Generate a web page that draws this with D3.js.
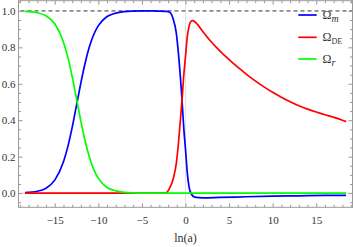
<!DOCTYPE html>
<html>
<head>
<meta charset="utf-8">
<script src="https://cdn.jsdelivr.net/npm/d3@7"></script>
<style>
    body { margin: 0; background: #fff; }
    svg { display: block; }
    text { font-family: "Liberation Serif", "DejaVu Serif", serif; fill: #333; }
</style>
</head>
<body>
<div id="chart"></div>
<script>
    // ln(a) samples and density parameters
    var lnA_early = [-18.42, -17, -16, -15, -14, -13.5, -13, -12.5, -12, -11.5, -11, -10.5, -10, -9, -8, -7, -6, -5, -4, -3];
    var omegaR_early = [0.997, 0.99, 0.973, 0.929, 0.828, 0.745, 0.639, 0.517, 0.394, 0.283, 0.193, 0.127, 0.081, 0.031, 0.012, 0.004, 0.001, 0, 0, 0];

    var lnA_m = [-18.42, -17, -16, -15, -14, -13.5, -13, -12.5, -12, -11.5, -11, -10.5, -10, -9, -8, -7, -6, -5, -4, -3,
                 -2.2, -1.82, -1.44, -1.05, -0.78, -0.59, -0.4, -0.21, 0, 0.21, 0.4, 0.67, 1.05, 2.0, 3.9, 7, 10, 13, 16, 18.42];
    var omegaM = [0.003, 0.01, 0.027, 0.071, 0.172, 0.255, 0.361, 0.483, 0.606, 0.717, 0.807, 0.873, 0.919, 0.969, 0.988, 0.996, 0.999, 1.0, 1.0, 0.999,
                  0.997, 0.993, 0.96, 0.877, 0.75, 0.64, 0.51, 0.365, 0.24, 0.11, 0.036, -0.005, -0.022, -0.026, -0.024, -0.02, -0.017, -0.015, -0.013, -0.012];

    var lnA_de = [-18.42, -3, -2.2, -1.82, -1.44, -1.05, -0.78, -0.59, -0.4, -0.21, 0, 0.21, 0.4, 0.67, 0.85, 1.24, 2.0, 2.77, 3.9,
                  5, 6, 7, 8, 9, 10, 11, 12, 13, 14, 15, 16, 17, 18, 18.42];
    var omegaDE = [0, 0, 0.003, 0.027, 0.073, 0.165, 0.29, 0.40, 0.51, 0.64, 0.75, 0.86, 0.914, 0.945, 0.947, 0.933, 0.886, 0.84, 0.782,
                   0.733, 0.691, 0.652, 0.616, 0.583, 0.553, 0.526, 0.501, 0.479, 0.461, 0.445, 0.43, 0.416, 0.4, 0.392];

    var lnA_r = lnA_early.concat([18.42]);
    var omegaR = omegaR_early.concat([0]);

    var xTicks = [-15, -10, -5, 0, 5, 10, 15];
    var yTicks = [0, 0.2, 0.4, 0.6, 0.8, 1.0];

    var seriesNames = ["m", "DE", "r"];
    var seriesColors = ["#0000ff", "#ff0000", "#00ff00"];

    var width = 354, height = 247;
    var plotLeft = 18.5, plotRight = 352.5, plotTop = 0.7, plotBottom = 207.3;

    var x = d3.scaleLinear().domain([-19.16, 19.16]).range([plotLeft, plotRight]);
    var y = d3.scaleLinear().domain([-0.078, 1.056]).range([plotBottom, plotTop]);

    var svg = d3.select("#chart").append("svg")
        .attr("width", width)
        .attr("height", height);

    // light zero lines
    svg.append("line")
        .attr("x1", x(0)).attr("x2", x(0))
        .attr("y1", plotTop).attr("y2", plotBottom)
        .style("stroke", "#e2e2e2").style("stroke-width", 1);
    svg.append("line")
        .attr("x1", plotLeft).attr("x2", plotRight)
        .attr("y1", y(0)).attr("y2", y(0))
        .style("stroke", "#e2e2e2").style("stroke-width", 1);

    // dashed line at 1
    svg.append("line")
        .attr("x1", plotLeft + 2).attr("x2", plotRight)
        .attr("y1", y(1)).attr("y2", y(1))
        .style("stroke", "#888").style("stroke-width", 1.6)
        .style("stroke-dasharray", "4,3");

    var line = d3.line()
        .x(function(d) { return x(d[0]); })
        .y(function(d) { return y(d[1]); })
        .curve(d3.curveMonotoneX);

    var data = [
        d3.zip(lnA_m, omegaM),
        d3.zip(lnA_de, omegaDE),
        d3.zip(lnA_r, omegaR)
    ];

    svg.append("g")
        .selectAll("path")
        .data(data)
        .enter().append("path")
        .attr("d", line)
        .style("fill", "none")
        .style("stroke", function(d, i) { return seriesColors[i]; })
        .style("stroke-width", 1.7);

    // frame with ticks on all sides
    var frameColor = "#999";
    var xMinor = d3.range(-19, 20, 1).filter(function(v) { return v % 5 !== 0; });
    var yMinor = d3.range(-0.05, 1.06, 0.05).filter(function(v) { return Math.abs(v * 5 - Math.round(v * 5)) > 1e-6; });

    function styleAxis(g) {
        g.select(".domain").remove();
        g.selectAll("line").style("stroke", frameColor);
        g.selectAll("text").style("font-size", "11px").style("fill", "#333")
            .style("font-family", "'Liberation Serif', 'DejaVu Serif', serif");
    }

    svg.append("g").attr("transform", "translate(0," + plotBottom + ")")
        .call(d3.axisBottom(x).tickValues(xTicks).tickSize(-4).tickPadding(9).tickFormat(d3.format("d")))
        .call(styleAxis);
    svg.append("g").attr("transform", "translate(0," + plotBottom + ")")
        .call(d3.axisBottom(x).tickValues(xMinor).tickSize(-2.5).tickFormat(""))
        .call(styleAxis);
    svg.append("g").attr("transform", "translate(0," + plotTop + ")")
        .call(d3.axisTop(x).tickValues(xTicks).tickSize(-4).tickFormat(""))
        .call(styleAxis);
    svg.append("g").attr("transform", "translate(0," + plotTop + ")")
        .call(d3.axisTop(x).tickValues(xMinor).tickSize(-2.5).tickFormat(""))
        .call(styleAxis);

    svg.append("g").attr("transform", "translate(" + plotLeft + ",0)")
        .call(d3.axisLeft(y).tickValues(yTicks).tickSize(-4).tickPadding(3).tickFormat(d3.format(".1f")))
        .call(styleAxis);
    svg.append("g").attr("transform", "translate(" + plotLeft + ",0)")
        .call(d3.axisLeft(y).tickValues(yMinor).tickSize(-2.5).tickFormat(""))
        .call(styleAxis);
    svg.append("g").attr("transform", "translate(" + plotRight + ",0)")
        .call(d3.axisRight(y).tickValues(yTicks).tickSize(-4).tickFormat(""))
        .call(styleAxis);
    svg.append("g").attr("transform", "translate(" + plotRight + ",0)")
        .call(d3.axisRight(y).tickValues(yMinor).tickSize(-2.5).tickFormat(""))
        .call(styleAxis);

    svg.append("rect")
        .attr("x", plotLeft).attr("y", plotTop)
        .attr("width", plotRight - plotLeft).attr("height", plotBottom - plotTop)
        .style("fill", "none").style("stroke", frameColor).style("stroke-width", 1);

    // axis title
    svg.append("text")
        .attr("x", (plotLeft + plotRight) / 2)
        .attr("y", 242)
        .attr("text-anchor", "middle")
        .style("font-size", "12px")
        .text("ln(a)");

    // legend
    var legend = svg.append("g").attr("class", "legend");
    var rows = [15, 37.3, 59];
    seriesNames.forEach(function(name, i) {
        legend.append("line")
            .attr("x1", 298.3).attr("x2", 316.7)
            .attr("y1", rows[i]).attr("y2", rows[i])
            .style("stroke", seriesColors[i]).style("stroke-width", 1.7);
        var t = legend.append("text")
            .attr("x", 322.5).attr("y", rows[i] + 4)
            .style("font-size", "12px");
        t.append("tspan").text("Ω");
        var sub = t.append("tspan")
            .attr("dy", 3)
            .style("font-size", name === "DE" ? "8px" : "10px")
            .text(name);
        if (name !== "DE") sub.style("font-style", "italic");
    });
</script>
</body>
</html>
